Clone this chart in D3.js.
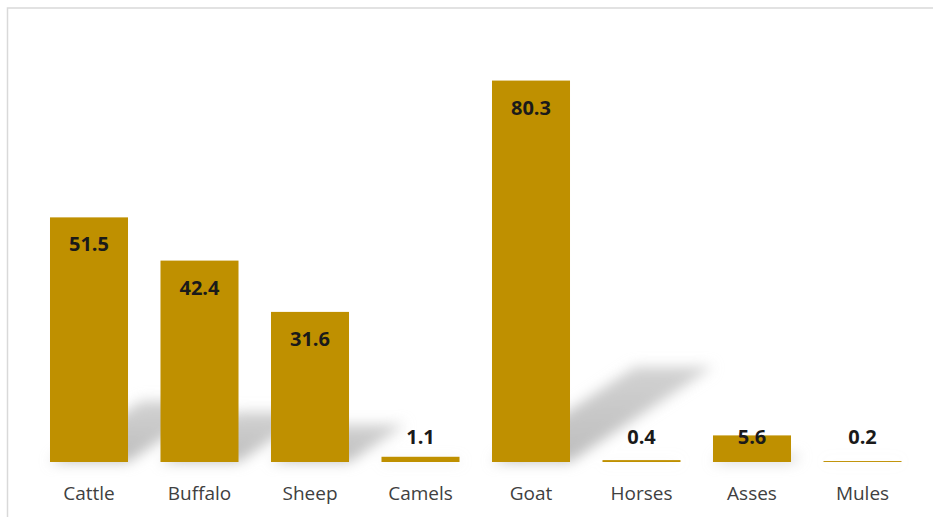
<!DOCTYPE html>
<html>
<head>
<meta charset="utf-8">
<script src="https://cdn.jsdelivr.net/npm/d3@7"></script>
<style>
  html, body { margin: 0; padding: 0; background: #fff; }
  svg { display: block; }
</style>
</head>
<body>
<svg id="chart" width="933" height="517"></svg>
<script>
// Livestock population (millions)
const categories = ["Cattle", "Buffalo", "Sheep", "Camels", "Goat", "Horses", "Asses", "Mules"];
const values = [51.5, 42.4, 31.6, 1.1, 80.3, 0.4, 5.6, 0.2];
const yDomain = [0, 90];

const data = categories.map((c, i) => ({ category: c, value: values[i] }));

const svg = d3.select("#chart");
const W = 933, H = 517;

// chart frame
svg.append("rect")
  .attr("x", 7.5).attr("y", 8)
  .attr("width", W + 20).attr("height", H + 20)
  .attr("fill", "#fff")
  .attr("stroke", "#d9d9d9")
  .attr("stroke-width", 1.5);

const x = d3.scaleBand()
  .domain(categories)
  .range([33.75, 917.75])
  .paddingInner(0.294)
  .paddingOuter(0.147);

const y = d3.scaleLinear()
  .domain(yDomain)
  .range([462, 462 - 90 * 4.75]);

// soft perspective shadow cast up and to the right
const defs = svg.append("defs");
defs.append("filter")
  .attr("id", "shadowBlur")
  .attr("x", "-30%").attr("y", "-30%")
  .attr("width", "160%").attr("height", "160%")
  .append("feGaussianBlur")
  .attr("stdDeviation", 6.5);

const fade = defs.append("linearGradient")
  .attr("id", "shadowFade")
  .attr("x1", 0).attr("y1", 1).attr("x2", 0).attr("y2", 0);
fade.append("stop").attr("offset", "0%").attr("stop-color", "#bdbdbd");
fade.append("stop").attr("offset", "100%").attr("stop-color", "#d2d2d2");

const shadowScale = 0.25, shadowSkew = 1.5;
svg.append("g")
  .attr("filter", "url(#shadowBlur)")
  .selectAll("polygon")
  .data(data)
  .join("polygon")
  .attr("fill", "url(#shadowFade)")
  .attr("points", d => {
    const x0 = x(d.category), x1 = x0 + x.bandwidth();
    const base = y(0);
    const hs = (y(0) - y(d.value)) * shadowScale;
    const dx = hs * shadowSkew;
    return [[x0, base], [x1, base], [x1 + dx, base - hs], [x0 + dx, base - hs]]
      .map(p => p.join(",")).join(" ");
  });

// bars
svg.append("g")
  .selectAll("rect")
  .data(data)
  .join("rect")
  .attr("x", d => x(d.category))
  .attr("y", d => y(d.value))
  .attr("width", x.bandwidth())
  .attr("height", d => y(0) - y(d.value))
  .attr("fill", "#BF9000");

// value labels: inside the top of the bar, kept above the baseline for short bars
svg.append("g")
  .selectAll("text")
  .data(data)
  .join("text")
  .attr("x", d => x(d.category) + x.bandwidth() / 2)
  .attr("y", d => Math.min(y(d.value) + 34, y(0) - 18))
  .attr("text-anchor", "middle")
  .attr("font-family", "'Open Sans', sans-serif")
  .attr("font-weight", "bold")
  .attr("font-size", "20px")
  .attr("fill", "#1a1a1a")
  .text(d => d.value.toFixed(1));

// category axis labels
const xAxis = d3.axisBottom(x).tickSize(0).tickPadding(0);
const gx = svg.append("g")
  .attr("transform", `translate(0,${y(0)})`)
  .call(xAxis);
gx.select(".domain").remove();
gx.selectAll("text")
  .attr("y", 38)
  .attr("dy", 0)
  .attr("font-family", "'Open Sans', sans-serif")
  .attr("font-size", "19px")
  .attr("fill", "#404040");
</script>
</body>
</html>
